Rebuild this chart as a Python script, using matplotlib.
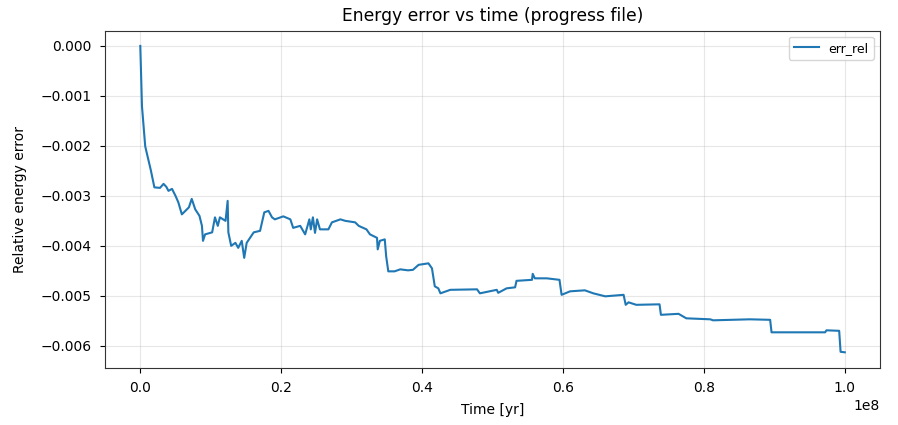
import matplotlib.pyplot as plt
import numpy as np

# time in Myr (converted to yr below), relative energy error
t_myr = [0.0, 0.24, 0.7, 1.5, 2.0, 2.8, 3.3, 3.7, 4.0, 4.5, 5.0, 5.4, 5.9, 6.4, 6.9,
         7.3, 7.8, 8.4, 8.75, 8.9, 9.2, 10.2, 10.6, 11.0, 11.3, 12.1, 12.4, 12.5, 12.9,
         13.5, 13.9, 14.4, 14.75, 15.1, 16.1, 17.0, 17.6, 18.2, 18.7, 19.1, 20.3, 21.3,
         21.7, 22.7, 23.4, 24.0, 24.2, 24.5, 24.8, 25.1, 25.5, 26.7, 27.2, 28.4, 29.1,
         30.5, 31.0, 32.1, 32.6, 33.6, 33.7, 34.0, 34.7, 34.9, 35.2, 36.1, 36.9, 38.0,
         38.7, 39.5, 40.9, 41.4, 41.8, 42.3, 42.6, 44.0, 47.8, 48.2, 50.6, 50.8, 52.0,
         53.2, 53.4, 55.6, 55.7, 56.0, 57.7, 59.5, 59.8, 61.0, 63.1, 64.3, 66.0, 68.6,
         68.9, 69.3, 70.4, 73.7, 73.9, 76.4, 77.5, 80.9, 81.3, 86.5, 89.4, 89.6, 97.2,
         97.4, 99.2, 99.4, 100.0]
err_rel = [0.0, -0.00121, -0.00201, -0.00249, -0.00283, -0.00284, -0.00276, -0.00282,
           -0.00290, -0.00286, -0.00300, -0.00313, -0.00337, -0.00330, -0.00323, -0.00306,
           -0.00327, -0.00340, -0.00360, -0.00390, -0.00377, -0.00373, -0.00343, -0.00360,
           -0.00343, -0.00350, -0.00310, -0.00373, -0.00400, -0.00394, -0.00404, -0.00390,
           -0.00424, -0.00394, -0.00373, -0.00370, -0.00333, -0.00330, -0.00343, -0.00347,
           -0.00341, -0.00347, -0.00364, -0.00360, -0.00377, -0.00347, -0.00367, -0.00343,
           -0.00374, -0.00347, -0.00367, -0.00367, -0.00353, -0.00347, -0.00350, -0.00353,
           -0.00360, -0.00367, -0.00377, -0.00384, -0.00407, -0.00390, -0.00387, -0.00421,
           -0.00451, -0.00451, -0.00447, -0.00449, -0.00448, -0.00438, -0.00435, -0.00445,
           -0.00481, -0.00485, -0.00495, -0.00488, -0.00487, -0.00495, -0.00488, -0.00494,
           -0.00485, -0.00483, -0.00470, -0.00468, -0.00456, -0.00465, -0.00465, -0.00468,
           -0.00498, -0.00491, -0.00489, -0.00495, -0.00501, -0.00498, -0.00518, -0.00513,
           -0.00518, -0.00517, -0.00538, -0.00536, -0.00545, -0.00547, -0.00549, -0.00547,
           -0.00548, -0.00573, -0.00573, -0.00569, -0.00570, -0.00612, -0.00613]

t_yr = np.array(t_myr) * 1e6

fig = plt.figure(figsize=(8.98, 4.25), dpi=100)
ax = fig.add_axes([0.117, 0.135, 0.863, 0.793])

ax.plot(t_yr, err_rel, color='#1f77b4', lw=1.5, label='err_rel')
ax.grid(alpha=0.3)
ax.tick_params(pad=6)
for s in ax.spines.values():
    s.set_color('#333333')
ax.set_title('Energy error vs time (progress file)', fontsize=12.3, pad=7)
ax.set_xlabel('Time [yr]', labelpad=6)
ax.set_ylabel('Relative energy error', labelpad=10)
ax.legend(fontsize=9, loc='upper right')

fig.savefig('out.png', dpi=100)
